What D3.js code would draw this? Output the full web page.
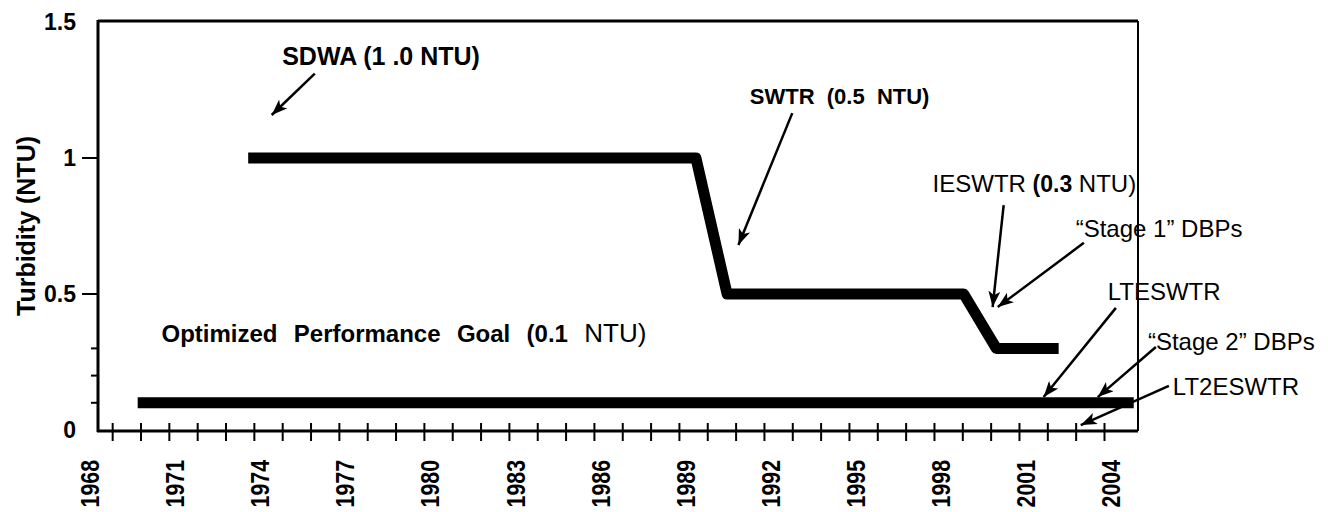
<!DOCTYPE html>
<html lang="en">
	<head>
		<meta charset="utf-8">
		<title>Turbidity regulations timeline</title>
		<script type="text/javascript" src="https://cdn.jsdelivr.net/npm/d3@7/dist/d3.min.js"></script>
		<style type="text/css">
			body { margin: 0; background: #fff; }
			text { font-family: "Liberation Sans", Arial, sans-serif; fill: #000; white-space: pre; }
			.yearlab text { font-weight: bold; font-size: 26px; }
			.ylab text { font-weight: bold; font-size: 23px; }
		</style>
	</head>
	<body>
		<script type="text/javascript">

			// regulation limit (upper staircase) and the optimized goal (flat line)
			var limitYears = [1973.8, 1989.6, 1990.7, 1999.05, 2000.2, 2002.4];
			var limitNTU   = [1, 1, 0.5, 0.5, 0.3, 0.3];
			var goalYears  = [1969.9, 2005.05];
			var goalNTU    = [0.1, 0.1];

			var yearLabels  = [1968, 1971, 1974, 1977, 1980, 1983, 1986, 1989, 1992, 1995, 1998, 2001, 2004];
			var yearTicks   = d3.range(1969, 2005);
			var yLabels     = [0, 0.5, 1, 1.5];
			var yMajorTicks = [0.5, 1];
			var yMinorTicks = [0.1, 0.2, 0.3];

			// annotations: text anchor + arrow (from -> to), all in year / NTU units
			var notes = [
				{parts: [["SDWA (1 .0 NTU)", "bold", 25]], at: [1975.0, 1.342], from: [1976.15, 1.31], to: [1974.63, 1.158]},
				{parts: [["SWTR  (0.5  NTU)", "bold", 22]], at: [1991.5, 1.2], from: [1993.0, 1.165], to: [1991.1, 0.68]},
				{parts: [["IESWTR ", "normal", 24], ["(0.3", "bold", 23], [" NTU)", "normal", 24]], at: [1997.95, 0.875], from: [2000.46, 0.827], to: [2000.07, 0.452]},
				{parts: [["\u201cStage 1\u201d DBPs", "normal", 24]], at: [2003.0, 0.71], from: [2003.29, 0.688], to: [2000.25, 0.452]},
				{parts: [["LTESWTR", "normal", 24]], at: [2004.13, 0.478], from: [2004.42, 0.449], to: [2001.87, 0.121]},
				{parts: [["\u201cStage 2\u201d DBPs", "normal", 24]], at: [2005.55, 0.294], from: [2005.83, 0.305], to: [2003.78, 0.121]},
				{parts: [["LT2ESWTR", "normal", 24]], at: [2006.43, 0.129], from: [2006.29, 0.162], to: [2003.18, 0.018]},
				{parts: [["Optimized  Performance  Goal  (0.1  ", "bold", 24], ["NTU)", "normal", 26]], at: [1970.74, 0.324], spacing: 1.5}
			];

			var W = 1328, H = 512;
			var mLeft = 98, mRight = 1138, mTop = 22, mBottom = 430;

			var xScale = d3.scaleLinear()
				.domain([1968.5, 2005.2])
				.range([mLeft, mRight]);

			var yScale = d3.scaleLinear()
				.domain([0, 1.5])
				.range([mBottom, mTop]);

			var svg = d3.select("body")
				.append("svg")
				.attr("width", W)
				.attr("height", H);

			svg.append("defs").append("marker")
				.attr("id", "head")
				.attr("markerUnits", "userSpaceOnUse")
				.attr("viewBox", "0 0 16 12")
				.attr("refX", 16)
				.attr("refY", 6)
				.attr("markerWidth", 16)
				.attr("markerHeight", 12)
				.attr("orient", "auto")
				.append("path")
				.attr("d", "M0,0 L16,6 L0,12 L4,6 Z")
				.attr("fill", "#000");

			// frame
			svg.append("line").attr("x1", mLeft).attr("x2", mRight).attr("y1", mTop - 1).attr("y2", mTop - 1)
				.attr("stroke", "#000").attr("stroke-width", 3);
			svg.append("line").attr("x1", mRight).attr("x2", mRight).attr("y1", mTop - 1).attr("y2", mBottom + 1)
				.attr("stroke", "#000").attr("stroke-width", 2);
			svg.append("line").attr("x1", mLeft).attr("x2", mLeft).attr("y1", mTop - 2).attr("y2", mBottom + 2)
				.attr("stroke", "#000").attr("stroke-width", 3);
			svg.append("line").attr("x1", mLeft - 1).attr("x2", mRight).attr("y1", mBottom + 1).attr("y2", mBottom + 1)
				.attr("stroke", "#000").attr("stroke-width", 3);

			// x ticks crossing the axis
			var xTickAxis = d3.axisBottom(xScale).tickValues(yearTicks).tickSize(10).tickFormat("");
			var gx = svg.append("g")
				.attr("transform", "translate(0," + (mBottom + 1) + ")")
				.call(xTickAxis);
			gx.select(".domain").remove();
			gx.selectAll(".tick line").attr("y1", -8).attr("stroke", "#000").attr("stroke-width", 2);

			// x labels, rotated (squeezed to look like a narrow face)
			var gxl = svg.append("g")
				.attr("class", "yearlab")
				.attr("transform", "translate(0," + mBottom + ")")
				.call(d3.axisBottom(xScale).tickValues(yearLabels).tickSize(0).tickFormat(d3.format("d")));
			gxl.select(".domain").remove();
			gxl.selectAll("text")
				.attr("transform", "rotate(-90) scale(0.82,1)")
				.attr("text-anchor", "end")
				.attr("x", -30 / 0.82)
				.attr("y", 6)
				.attr("dy", "0.35em");

			// y labels
			var gyl = svg.append("g")
				.attr("class", "ylab")
				.attr("transform", "translate(" + mLeft + ",0)")
				.call(d3.axisLeft(yScale).tickValues(yLabels).tickSize(0).tickFormat(function(d) { return d; }));
			gyl.select(".domain").remove();
			gyl.selectAll("text").attr("x", -22);

			// y ticks
			svg.selectAll(".ymaj")
				.data(yMajorTicks)
				.enter()
				.append("line")
				.attr("x1", mLeft - 16).attr("x2", mLeft)
				.attr("y1", function(d) { return yScale(d); })
				.attr("y2", function(d) { return yScale(d); })
				.attr("stroke", "#000").attr("stroke-width", 2);
			svg.selectAll(".ymin")
				.data(yMinorTicks)
				.enter()
				.append("line")
				.attr("x1", mLeft - 7).attr("x2", mLeft)
				.attr("y1", function(d) { return yScale(d); })
				.attr("y2", function(d) { return yScale(d); })
				.attr("stroke", "#000").attr("stroke-width", 2);

			svg.append("text")
				.attr("transform", "translate(35," + ((mTop + mBottom) / 2) + ") rotate(-90)")
				.attr("text-anchor", "middle")
				.attr("font-size", "25px")
				.attr("font-weight", "bold")
				.text("Turbidity (NTU)");

			// data lines
			var line = d3.line()
				.x(function(d) { return xScale(d[0]); })
				.y(function(d) { return yScale(d[1]); });

			var limitPts = d3.zip(limitYears, limitNTU);
			var goalPts = d3.zip(goalYears, goalNTU);

			[limitPts, goalPts].forEach(function(pts) {
				svg.append("path")
					.attr("d", line(pts))
					.attr("fill", "none")
					.attr("stroke", "#000")
					.attr("stroke-width", 11)
					.attr("stroke-linejoin", "round");
			});

			// annotations
			notes.forEach(function(n) {
				var t = svg.append("text")
					.attr("x", xScale(n.at[0]))
					.attr("y", yScale(n.at[1]))
					.attr("word-spacing", n.spacing || 0);
				n.parts.forEach(function(p) {
					t.append("tspan")
						.attr("font-weight", p[1])
						.attr("font-size", p[2] + "px")
						.text(p[0]);
				});
				if (n.from) {
					svg.append("line")
						.attr("x1", xScale(n.from[0]))
						.attr("y1", yScale(n.from[1]))
						.attr("x2", xScale(n.to[0]))
						.attr("y2", yScale(n.to[1]))
						.attr("stroke", "#000")
						.attr("stroke-width", 2.5)
						.attr("marker-end", "url(#head)");
				}
			});
		</script>
	</body>
</html>
